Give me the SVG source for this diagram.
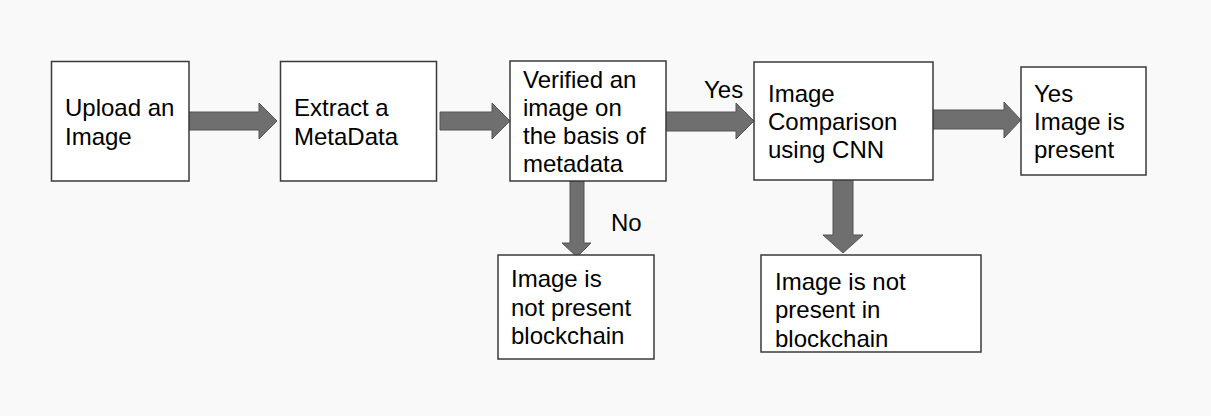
<svg xmlns="http://www.w3.org/2000/svg" width="1211" height="416" viewBox="0 0 1211 416">
<style>
.box{fill:#ffffff;stroke:#3a3a3a;stroke-width:1.5}
.arr{fill:#6f6f6f;stroke:#555555;stroke-width:1}
text{font-family:"Liberation Sans",Arial,sans-serif;font-size:24px;fill:#000000}
</style>
<rect x="0" y="0" width="1211" height="416" fill="#f9f9f9"/>
<g id="connectors">
<polygon class="arr" points="189,112 259,112 259,103 277,121 259,139 259,130 189,130"/>
<polygon class="arr" points="440,112 492,112 492,103 510,121 492,139 492,130 440,130"/>
<polygon class="arr" points="666,112 736,112 736,103 754,121 736,139 736,131 666,131"/>
<polygon class="arr" points="933,110 1004,110 1004,102 1021,120 1004,138 1004,129 933,129"/>
<polygon class="arr" points="570,181 584,181 584,243 591,243 577,257 562,243 570,243"/>
<polygon class="arr" points="833,177 853,177 853,235 863,235 843,253 823,235 833,235"/>
<text x="704" y="98">Yes</text>
<text x="611" y="231">No</text>
</g>
<g id="n1"><rect class="box" x="51.5" y="61.5" width="137.5" height="119.5"/>
<text x="65" y="116">Upload an</text><text x="65" y="145">Image</text></g>
<g id="n2"><rect class="box" x="280.5" y="61.5" width="156" height="119.5"/>
<text x="294" y="116">Extract a</text><text x="294" y="145">MetaData</text></g>
<g id="n3"><rect class="box" x="510" y="61" width="156" height="120"/>
<text x="523" y="88">Verified an</text><text x="523" y="116">image on</text><text x="523" y="144">the basis of</text><text x="523" y="172">metadata</text></g>
<g id="n4"><rect class="box" x="754" y="62" width="179" height="118"/>
<text x="768" y="102">Image</text><text x="768" y="130">Comparison</text><text x="768" y="158">using CNN</text></g>
<g id="n5"><rect class="box" x="1021" y="67" width="125" height="108"/>
<text x="1034" y="102">Yes</text><text x="1034" y="130">Image is</text><text x="1034" y="158">present</text></g>
<g id="n6"><rect class="box" x="498" y="255" width="156" height="104"/>
<text x="511" y="287">Image is</text><text x="511" y="316">not present</text><text x="511" y="344">blockchain</text></g>
<g id="n7"><rect class="box" x="761" y="255" width="220" height="97"/>
<text x="775" y="290">Image is not</text><text x="775" y="318">present in</text><text x="775" y="347">blockchain</text></g>
</svg>
